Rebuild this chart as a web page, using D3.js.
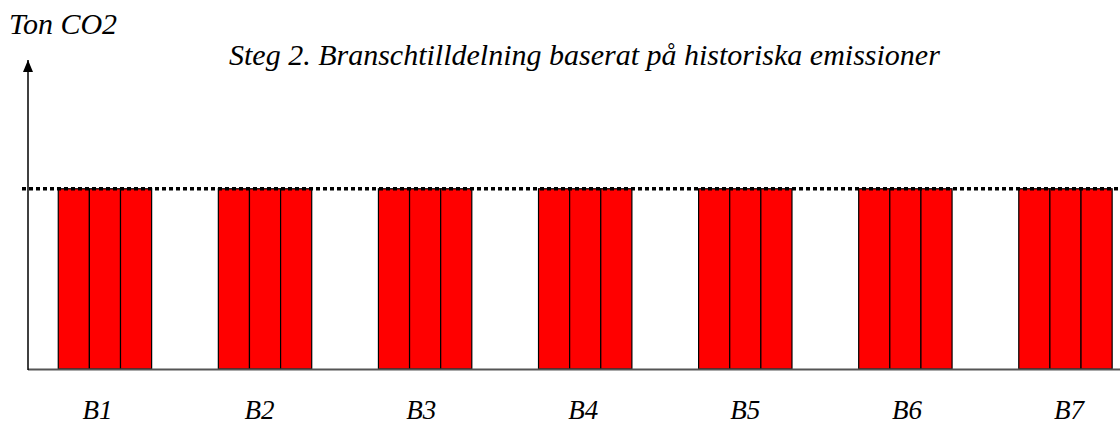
<!DOCTYPE html>
<html>
<head>
<meta charset="utf-8">
<script src="https://cdn.jsdelivr.net/npm/d3@7/dist/d3.min.js"></script>
<style>
  html, body { margin: 0; padding: 0; background: #fff; }
  svg { display: block; }
  text { font-family: "Liberation Serif", "Times New Roman", serif; font-style: italic; fill: #000; }
</style>
</head>
<body>
<svg id="chart" width="1120" height="425"></svg>
<script>
// ---- data ----
const categories = ["B1", "B2", "B3", "B4", "B5", "B6", "B7"];
const subBars = ["a", "b", "c"];
const values = [
  [1, 1, 1],
  [1, 1, 1],
  [1, 1, 1],
  [1, 1, 1],
  [1, 1, 1],
  [1, 1, 1],
  [1, 1, 1]
];
const referenceLevel = 1;
const yMax = 1.72;
const title = "Steg 2. Branschtilldelning baserat på historiska emissioner";
const yLabel = "Ton CO2";

// ---- layout ----
const svg = d3.select("#chart");
const W = 1120, H = 425;
const axisX = 28, baseY = 369, topY = 59;

const y = d3.scaleLinear().domain([0, yMax]).range([baseY, topY]);

const x = d3.scaleBand()
  .domain(categories)
  .range([axisX, axisX + 6.962 * 160.07])
  .paddingInner(0.4167)
  .paddingOuter(0.189);

const xSub = d3.scaleBand().domain(subBars).range([0, x.bandwidth()]).padding(0);

const xLabel = d3.scalePoint().domain(categories).range([97.5, 1069]);

// bars
const groups = svg.append("g").selectAll("g")
  .data(categories)
  .join("g")
  .attr("transform", d => `translate(${x(d)},0)`);

groups.selectAll("rect")
  .data((d, i) => values[i].map((v, j) => ({ key: subBars[j], v })))
  .join("rect")
  .attr("x", d => xSub(d.key))
  .attr("y", d => y(d.v))
  .attr("width", xSub.bandwidth())
  .attr("height", d => baseY - y(d.v))
  .attr("fill", "#ff0000")
  .attr("stroke", "#000")
  .attr("stroke-width", 1.2);

// baseline (x axis)
svg.append("line")
  .attr("x1", axisX).attr("x2", W)
  .attr("y1", baseY + 0.5).attr("y2", baseY + 0.5)
  .attr("stroke", "#555").attr("stroke-width", 2);

// y axis with arrow
svg.append("defs").append("marker")
  .attr("id", "arrow")
  .attr("viewBox", "0 0 10 12")
  .attr("refX", 5).attr("refY", 0)
  .attr("markerWidth", 10).attr("markerHeight", 12)
  .attr("markerUnits", "userSpaceOnUse")
  .attr("orient", "0")
  .append("path")
  .attr("d", "M0,12 L5,0 L10,12 Z")
  .attr("fill", "#000");

svg.append("line")
  .attr("x1", axisX).attr("x2", axisX)
  .attr("y1", baseY + 1).attr("y2", y(yMax) + 1)
  .attr("stroke", "#000").attr("stroke-width", 1.5)
  .attr("marker-end", "url(#arrow)");

// dotted reference line
svg.append("line")
  .attr("x1", 22).attr("x2", W)
  .attr("y1", y(referenceLevel)).attr("y2", y(referenceLevel))
  .attr("stroke", "#000").attr("stroke-width", 3.5)
  .attr("stroke-dasharray", "4 3");

// category labels
svg.append("g").selectAll("text")
  .data(categories)
  .join("text")
  .attr("x", d => xLabel(d))
  .attr("y", 419)
  .attr("text-anchor", "middle")
  .attr("font-size", 27)
  .text(d => d);

// y label
svg.append("text")
  .attr("x", 9).attr("y", 34)
  .attr("font-size", 30)
  .text(yLabel);

// title
svg.append("text")
  .attr("x", 229).attr("y", 65)
  .attr("font-size", 30)
  .text(title);
</script>
</body>
</html>
